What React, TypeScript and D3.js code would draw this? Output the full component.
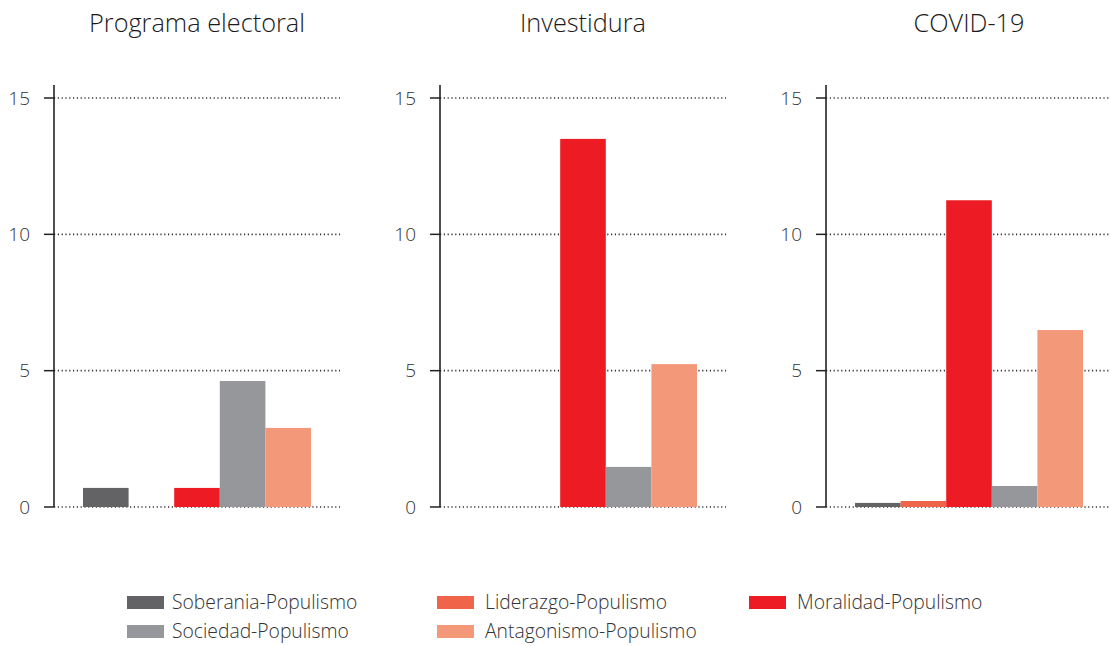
import React from "react";
import * as d3 from "d3";

const panels = ["Programa electoral", "Investidura", "COVID-19"];
const seriesNames = [
  "Soberania-Populismo",
  "Liderazgo-Populismo",
  "Moralidad-Populismo",
  "Sociedad-Populismo",
  "Antagonismo-Populismo",
];
const soberania = [0.7, 0, 0.15];
const liderazgo = [0, 0, 0.22];
const moralidad = [0.7, 13.5, 11.25];
const sociedad = [4.62, 1.47, 0.77];
const antagonismo = [2.9, 5.24, 6.49];
const yTicks = [0, 5, 10, 15];
const colors = ["#636365", "#f0654a", "#ed1c24", "#96979a", "#f4987a"];

const seriesValues = [soberania, liderazgo, moralidad, sociedad, antagonismo];

const legendOrder = [0, 1, 2, 3, 4];

export default function App() {
  const W = 1110;
  const H = 646;
  const panelScale = d3.scaleBand<string>().domain(panels).range([54, 54 + 3 * 386]).padding(0);
  const y = d3.scaleLinear().domain([0, 15]).range([507, 98]);
  const plotW = 286;
  const font = "'Open Sans', 'Noto Sans', sans-serif";

  const legendX = [127, 437, 749];
  const legendTextX = [172, 485, 797];
  const legendY = [602.5, 631.5];

  return (
    <svg width={W} height={H} style={{ position: "absolute", left: 0, top: 0, background: "#fff" }}>
      {panels.map((p, pi) => {
        const ax = panelScale(p) as number;
        const x = d3.scaleBand<string>().domain(seriesNames).range([ax + 29, ax + 29 + 228]).padding(0);
        return (
          <g key={p}>
            <text x={ax + plotW / 2} y={32} textAnchor="middle" fontFamily={font} fontWeight={300} fontSize={25.3} fill="#1a1a1a">
              {p}
            </text>
            {yTicks.map((t) => (
              <g key={t}>
                <line x1={ax} x2={ax + plotW} y1={y(t)} y2={y(t)} stroke="#333" strokeWidth={1.6} strokeDasharray="1.2,2.6" />
                <line x1={ax - 10} x2={ax} y1={y(t)} y2={y(t)} stroke="#222" strokeWidth={1.5} />
                <text x={ax - 24} y={y(t)} dy="0.35em" textAnchor="end" fontFamily={font} fontWeight={300} fontSize={19} fill="#333">
                  {t}
                </text>
              </g>
            ))}
            {seriesNames.map((s, si) => {
              const v = seriesValues[si][pi];
              if (v <= 0) return null;
              return (
                <rect key={s} x={x(s)} width={x.bandwidth()} y={y(v)} height={y(0) - y(v)} fill={colors[si]} />
              );
            })}
            <line x1={ax} x2={ax} y1={85} y2={y(0)} stroke="#222" strokeWidth={1.6} />
          </g>
        );
      })}
      {legendOrder.map((si, i) => {
        const col = i % 3;
        const row = Math.floor(i / 3);
        const lx = legendX[col];
        const ly = legendY[row];
        return (
          <g key={si}>
            <rect x={lx} y={ly - 6.5} width={37} height={13} fill={colors[si]} />
            <text x={legendTextX[col]} y={ly} dy="0.35em" fontFamily={font} fontWeight={300} fontSize={19.3} fill="#333">
              {seriesNames[si]}
            </text>
          </g>
        );
      })}
    </svg>
  );
}
